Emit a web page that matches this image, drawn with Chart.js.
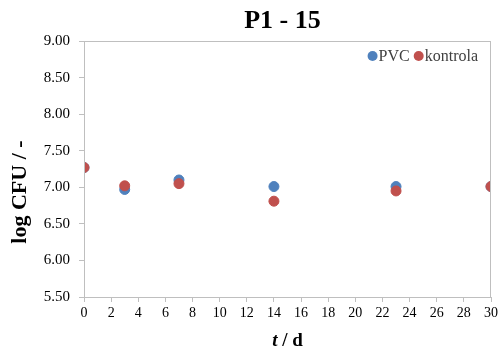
<!DOCTYPE html>
<html>
<head>
<meta charset="utf-8">
<script src="https://cdn.jsdelivr.net/npm/chart.js@4/dist/chart.umd.min.js"></script>
<style>
  html, body { margin: 0; padding: 0; background: #fff; }
  #wrap { width: 502px; height: 358px; }
</style>
</head>
<body>
<div id="wrap"><canvas id="chart-1"></canvas></div>
<script>
// ====== data ======
const days = [0, 3, 7, 14, 23, 30];
const pvc = [7.27, 6.97, 7.10, 7.01, 7.01, 7.01];
const kontrola = [7.27, 7.02, 7.05, 6.81, 6.95, 7.01];
const seriesNames = ['PVC', 'kontrola'];
const seriesColors = ['#4f81bd', '#c0504d'];
const yTicks = [5.5, 6.0, 6.5, 7.0, 7.5, 8.0, 8.5, 9.0];

const gray = '#bfbfbf';
const serif = "'Liberation Serif', 'Times New Roman', serif";

// moldura, título, legenda e títulos dos eixos
const extras = {
  id: 'extras',
  afterDraw(chart) {
    const c = chart.ctx, a = chart.chartArea;
    c.save();
    c.strokeStyle = gray;
    c.lineWidth = 1;
    c.strokeRect(a.left + 0.5, a.top + 0.5, a.right - a.left - 1, a.bottom - a.top);
    const cx = (a.left + a.right) / 2;
    c.fillStyle = '#000';
    c.textBaseline = 'middle';
    c.textAlign = 'center';
    c.font = 'bold 26px ' + serif;
    c.fillText('P1 - 15', cx - 5, 21);

    // eixo x: t / d
    c.textAlign = 'left';
    c.font = 'bold italic 19px ' + serif;
    const w1 = c.measureText('t').width;
    c.font = 'bold 19px ' + serif;
    const w2 = c.measureText(' / d').width;
    const x = cx - (w1 + w2) / 2;
    c.font = 'bold italic 19px ' + serif;
    c.fillText('t', x, 341);
    c.font = 'bold 19px ' + serif;
    c.fillText(' / d', x + w1, 341);

    // eixo y
    c.save();
    c.translate(20, 192);
    c.rotate(-Math.PI / 2);
    c.textAlign = 'center';
    c.font = 'bold 22px ' + serif;
    c.fillText('log CFU / -', 0, 0);
    c.restore();

    // legenda (canto superior direito, dentro da área)
    c.font = '16px ' + serif;
    c.textAlign = 'left';
    let lx = a.right - 13;
    const ly = 56;
    const items = seriesNames.map((n, i) => ({ n, col: seriesColors[i], w: c.measureText(n).width }));
    for (let i = items.length - 1; i >= 0; i--) {
      lx -= items[i].w;
      items[i].tx = lx;
      lx -= 6;
      items[i].cx = lx;
      lx -= 5 + 4;
    }
    items.forEach(it => {
      c.fillStyle = it.col;
      c.beginPath();
      c.arc(it.cx, ly, 5, 0, Math.PI * 2);
      c.fill();
      c.fillStyle = '#404040';
      c.fillText(it.n, it.tx, ly + 1);
    });
    c.restore();
  }
};

const toPts = (ys) => days.map((d, i) => ({ x: d, y: ys[i] }));

new Chart(document.getElementById('chart-1'), {
  type: 'scatter',
  data: {
    datasets: [{
      label: seriesNames[0],
      data: toPts(pvc),
      backgroundColor: seriesColors[0],
      borderColor: seriesColors[0],
      pointRadius: 5,
      pointHoverRadius: 5,
      order: 2
    }, {
      label: seriesNames[1],
      data: toPts(kontrola),
      backgroundColor: seriesColors[1],
      borderColor: seriesColors[1],
      pointRadius: 5,
      pointHoverRadius: 5,
      order: 1
    }]
  },
  options: {
    responsive: true,
    maintainAspectRatio: false,
    animation: false,
    layout: { padding: { top: 41, right: 11, bottom: 0, left: 0 } },
    plugins: {
      title: { display: false },
      tooltip: { enabled: false },
      legend: { display: false }
    },
    scales: {
      x: {
        type: 'linear',
        min: 0,
        max: 30,
        afterFit(scale) { scale.height = 61; },
        ticks: {
          stepSize: 2,
          color: '#000',
          padding: 3,
          font: { family: serif, size: 14 }
        },
        grid: { drawOnChartArea: false, color: gray, tickLength: 5 },
        border: { color: gray }
      },
      y: {
        min: 5.5,
        max: 9.0,
        afterFit(scale) { scale.width = 84; },
        afterBuildTicks(scale) { scale.ticks = yTicks.map(v => ({ value: v })); },
        ticks: {
          color: '#000',
          padding: 9,
          font: { family: serif, size: 15 },
          callback: (v) => Number(v).toFixed(2)
        },
        grid: { drawOnChartArea: false, color: gray, tickLength: 5 },
        border: { color: gray }
      }
    }
  },
  plugins: [extras]
});
</script>
</body>
</html>
